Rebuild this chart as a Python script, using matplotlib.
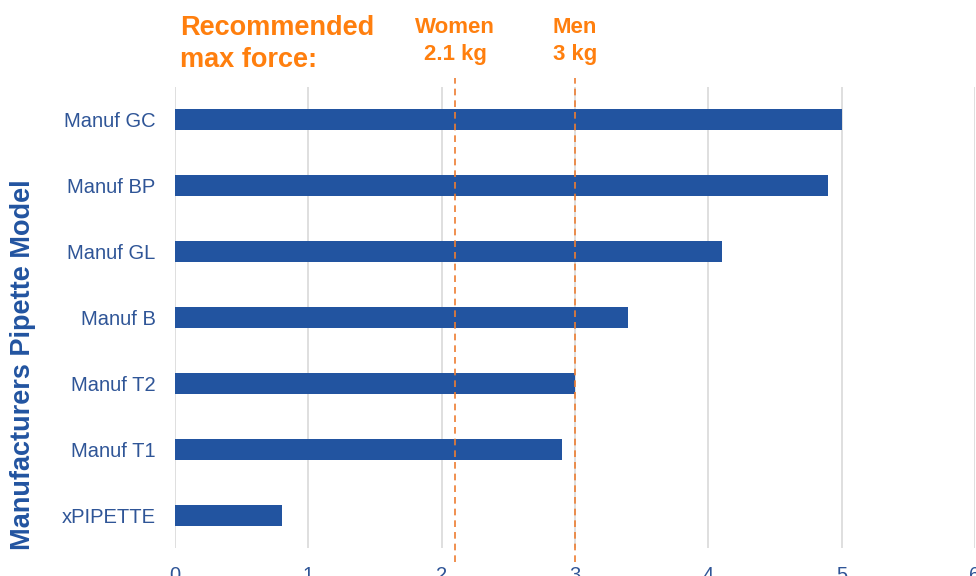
import matplotlib
matplotlib.use("Agg")
import matplotlib.pyplot as plt
import matplotlib.transforms as mtransforms

plt.rcParams['font.family'] = ['Liberation Sans', 'DejaVu Sans']

categories = ["Manuf GC", "Manuf BP", "Manuf GL", "Manuf B", "Manuf T2", "Manuf T1", "xPIPETTE"]
values = [5.0, 4.9, 4.1, 3.4, 3.0, 2.9, 0.8]
ref_values = [2.1, 3.0]
ref_labels = ["Women\n2.1 kg", "Men\n3 kg"]
x_ticks = [0, 1, 2, 3, 4, 5, 6]

bar_color = "#2254A0"
tick_color = "#2F5597"
orange = "#FF7F0E"
dash_color = "#ED7D31"

fig = plt.figure(figsize=(9.76, 5.76), dpi=100)
ax = fig.add_axes([175/976, 1-548/576, 800/976, (548-87)/576])

ypos = list(range(len(categories)))[::-1]
ax.barh(ypos, values, height=0.32, color=bar_color, zorder=2)
ax.set_xlim(0, 6)
ax.set_ylim(-0.5, 6.5)
ax.set_xticks(x_ticks)
ax.set_xticklabels([str(t) for t in x_ticks])
ax.set_yticks(ypos)
ax.set_yticklabels(categories)
ax.tick_params(axis='both', length=0, colors=tick_color, labelsize=14.5)
ax.tick_params(axis='y', pad=14)
ax.tick_params(axis='x', pad=13)
ax.grid(axis='x', color="#D9D9D9", linewidth=1.2, zorder=0)
ax.set_axisbelow(True)
for s in ax.spines.values():
    s.set_visible(False)

trans = mtransforms.blended_transform_factory(ax.transData, ax.transAxes)
for v, lab in zip(ref_values, ref_labels):
    ax.plot([v, v], [-0.03, 1.02], transform=trans, color=dash_color,
            linestyle=(0, (4, 3)), linewidth=1.2, clip_on=False, zorder=3)
    ax.text(v, 1 + (87 - 41) / 461, lab, transform=trans, ha='center', va='center',
            color=orange, fontsize=16, fontweight='bold', linespacing=1.38)

fig.text(180/976, 1-44/576, "Recommended\nmax force:", ha='left', va='center',
         color=orange, fontsize=19.5, fontweight='bold', linespacing=1.3)

fig.text(23/976, 1-365/576, "Manufacturers Pipette Model", rotation=90,
         ha='center', va='center', color=bar_color, fontsize=19.5, fontweight='bold')

fig.savefig("out.png", dpi=100)
